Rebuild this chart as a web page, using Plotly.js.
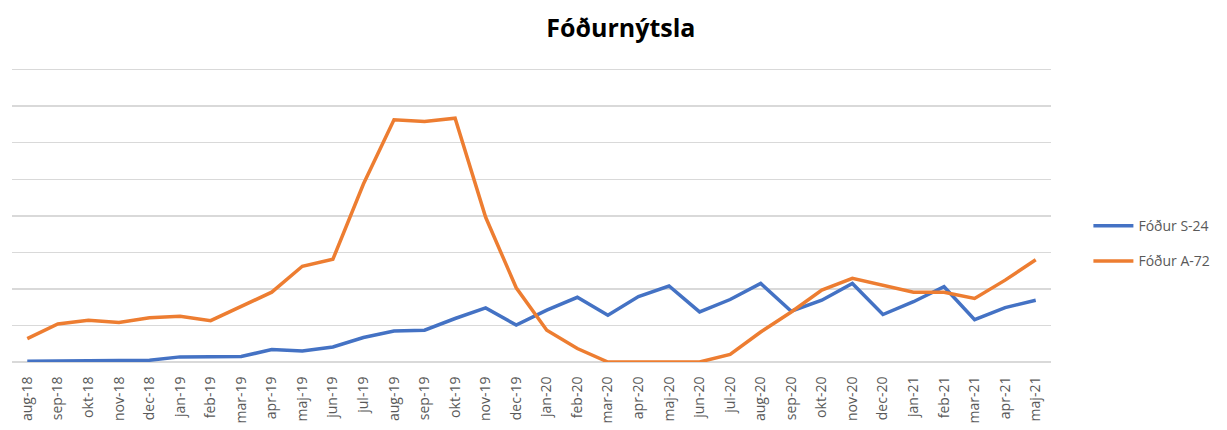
<!DOCTYPE html>
<html>
<head>
<meta charset="utf-8">
<script src="https://cdn.plot.ly/plotly-3.0.1.min.js"></script>
<style>html,body{margin:0;padding:0;background:#fff;}#chart{width:1227px;height:430px;}</style>
</head>
<body>
<div id="chart"></div>
<script>
const months = ["aug-18","sep-18","okt-18","nov-18","dec-18","jan-19","feb-19","mar-19","apr-19","maj-19","jun-19","jul-19","aug-19","sep-19","okt-19","nov-19","dec-19","jan-20","feb-20","mar-20","apr-20","maj-20","jun-20","jul-20","aug-20","sep-20","okt-20","nov-20","dec-20","jan-21","feb-21","mar-21","apr-21","maj-21"];
const seriesS24 = [0.02,0.03,0.04,0.05,0.05,0.14,0.15,0.15,0.34,0.30,0.41,0.67,0.85,0.87,1.19,1.48,1.01,1.42,1.77,1.28,1.79,2.08,1.37,1.71,2.15,1.39,1.69,2.15,1.30,1.65,2.06,1.16,1.49,1.69];
const seriesA72 = [0.64,1.04,1.14,1.08,1.21,1.25,1.13,1.52,1.91,2.62,2.81,4.87,6.63,6.58,6.67,3.96,2.03,0.87,0.37,0.0,0.0,0.0,0.0,0.21,0.82,1.37,1.97,2.29,2.11,1.91,1.91,1.74,2.24,2.80];
const names = ["Fóður S-24","Fóður A-72"];

const traces = [
  {x: months, y: seriesS24, name: names[0], legendgroup: "a", type: "scatter", mode: "lines", line: {color: "#4472C4", width: 3.5}},
  {x: months, y: seriesA72, name: names[1], legendgroup: "b", type: "scatter", mode: "lines", line: {color: "#ED7D31", width: 3.5}}
];
const layout = {
  width: 1227, height: 430,
  margin: {l: 12, r: 165, t: 66, b: 68},
  paper_bgcolor: "#fff", plot_bgcolor: "#fff",
  font: {family: "Open Sans, sans-serif", color: "#595959", size: 12},
  title: {text: "<b>Fóðurnýtsla</b>", x: 0.506, xanchor: "center", y: 0.935, yanchor: "middle",
          font: {family: "Open Sans, sans-serif", size: 25, color: "#000"}},
  xaxis: {type: "category", range: [-0.5, 33.5], tickangle: -90, showgrid: false, showline: false, zeroline: false,
          ticks: "outside", ticklen: 8, tickcolor: "rgba(0,0,0,0)", tickfont: {size: 14, color: "#595959"}, fixedrange: true},
  yaxis: {range: [0, 8.1], dtick: 1, showticklabels: false, showgrid: true, gridcolor: "#d9d9d9", gridwidth: 1.5,
          zeroline: true, zerolinecolor: "#d9d9d9", zerolinewidth: 1.5, showline: false, ticks: "", fixedrange: true},
  showlegend: true,
  legend: {x: 1.036, y: 0.40, xanchor: "left", yanchor: "middle", font: {size: 14, color: "#595959"},
           tracegroupgap: 14, itemwidth: 40}
};
Plotly.newPlot("chart", traces, layout, {displayModeBar: false, staticPlot: true});
</script>
</body>
</html>
